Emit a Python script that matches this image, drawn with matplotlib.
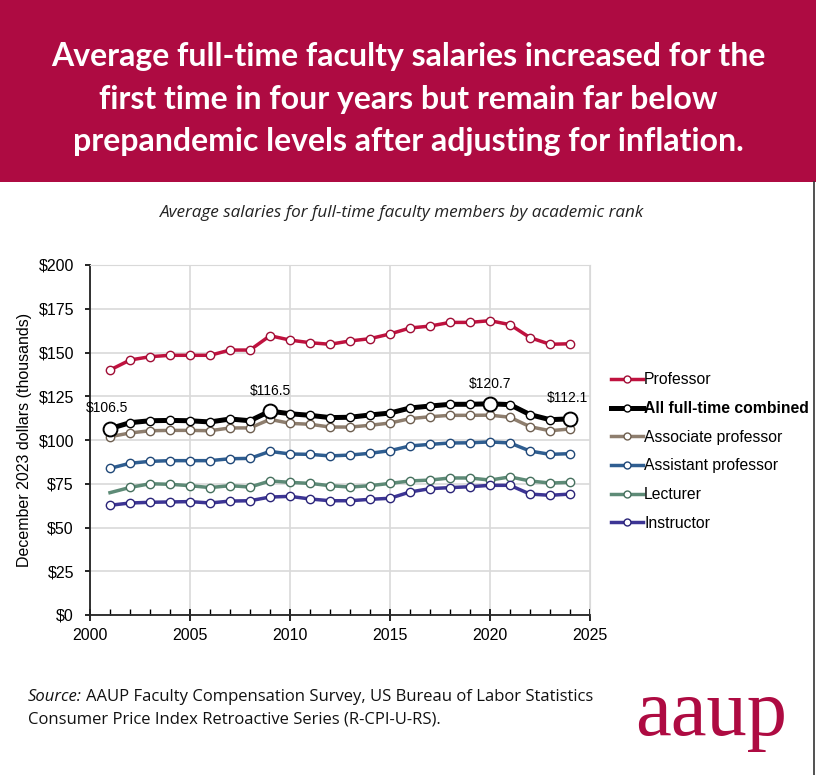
import matplotlib
matplotlib.use('Agg')
import matplotlib.pyplot as plt
from matplotlib.ticker import MultipleLocator, FuncFormatter

# data (thousands of Dec 2023 dollars)
years = list(range(2001, 2025))
professor = [140.0, 145.7, 147.6, 148.4, 148.4, 148.4, 151.4, 151.4, 159.6, 157.1, 155.6, 154.7,
             156.6, 157.9, 160.6, 164.0, 165.1, 167.2, 167.2, 168.2, 165.9, 158.5, 154.7, 155.0]
combined = [106.5, 109.9, 111.0, 111.2, 111.0, 110.3, 112.0, 111.0, 116.5, 115.0, 114.1, 112.8,
            113.0, 114.3, 115.4, 118.3, 119.4, 120.4, 120.4, 120.7, 120.2, 114.5, 111.6, 112.1]
associate = [101.9, 104.0, 105.3, 105.5, 105.5, 105.3, 106.9, 106.9, 111.8, 109.5, 109.0, 107.4,
             107.4, 108.4, 109.7, 112.2, 113.3, 114.1, 114.1, 114.2, 113.0, 107.6, 105.3, 106.3]
assistant = [83.8, 86.7, 87.8, 88.2, 88.2, 88.2, 89.3, 89.5, 93.5, 92.0, 91.8, 90.9,
             91.4, 92.4, 93.9, 96.6, 97.5, 98.3, 98.4, 98.9, 98.3, 93.7, 91.8, 92.2]
lecturer = [69.9, 72.9, 75.0, 74.7, 73.9, 72.8, 73.9, 73.1, 76.6, 75.8, 75.2, 73.9,
            73.1, 73.9, 75.2, 76.6, 77.1, 78.3, 78.3, 77.1, 78.9, 76.6, 75.4, 75.8]
instructor = [62.7, 64.0, 64.4, 64.6, 64.8, 64.0, 65.1, 65.3, 67.4, 67.8, 66.3, 65.3,
              65.3, 66.1, 66.7, 70.3, 72.2, 72.8, 73.3, 74.1, 74.1, 69.1, 68.4, 69.1]

labels = ['Professor', 'All full-time combined', 'Associate professor',
          'Assistant professor', 'Lecturer', 'Instructor']
callout_years = [2001, 2009, 2020, 2024]

crimson = '#AE0B42'

fig = plt.figure(figsize=(8.16, 7.75), dpi=100)
fig.patch.set_facecolor('white')

# header band
fig.patches.append(plt.Rectangle((0, 1 - 182/775), 1, 182/775, transform=fig.transFigure,
                                 facecolor=crimson, edgecolor='none', zorder=0))
# thin dark edge on the right like the screenshot
fig.add_artist(plt.Line2D([813.5/816, 813.5/816], [0, 1 - 182/775], transform=fig.transFigure,
                          color='#333333', lw=1.2))
fig.text(0.5, 1 - 99/775,
         'Average full-time faculty salaries increased for the\n'
         'first time in four years but remain far below\n'
         'prepandemic levels after adjusting for inflation.',
         ha='center', va='center', color='white', fontsize=23, fontweight='bold',
         family='Lato', linespacing=1.58)

fig.text(402/816, 1 - 213/775, 'Average salaries for full-time faculty members by academic rank',
         ha='center', va='center', fontsize=12.3, style='italic', family='Open Sans', color='#222222')

ax = fig.add_axes([90/816, 1 - 615/775, 500/816, 350/775])

series = [professor, combined, associate, assistant, lecturer, instructor]
colors = ['#C0123F', '#000000', '#8E7E6E', '#2F5E91', '#5E8B77', '#3D3595']
edges = ['#A00D35', '#000000', '#6E5F50', '#204878', '#46705E', '#2A2478']

for vals, lab, c, ec in zip(series, labels, colors, edges):
    is_all = lab.startswith('All')
    mk_every = list(range(1, len(years))) if lab == 'Lecturer' else None
    ax.plot(years, vals, color=c, lw=3.6 if is_all else 2.5, marker='o', ms=6,
            mfc='white', mec=ec, mew=1.0, label=lab, markevery=mk_every,
            zorder=4 if is_all else 3)

# bigger markers and callouts on the combined line
for yr in callout_years:
    v = combined[years.index(yr)]
    ax.plot(yr, v, marker='o', ms=10, mfc='white', mec='black', mew=1.4, zorder=5)
offsets = {2001: (-2, 14.5), 2009: (0, 14.5), 2020: (0, 14.5), 2024: (-2, 15)}
for yr in callout_years:
    v = combined[years.index(yr)]
    ax.annotate('$%.1f' % v, (yr, v), xytext=offsets[yr], textcoords='offset points',
                ha='center', va='center', fontsize=10, family='Liberation Sans')

ax.set_xlim(2000, 2025)
ax.set_ylim(0, 200)
ax.xaxis.set_major_locator(MultipleLocator(5))
ax.xaxis.set_minor_locator(MultipleLocator(1))
ax.yaxis.set_major_locator(MultipleLocator(25))
ax.yaxis.set_major_formatter(FuncFormatter(lambda v, p: '$%d' % v))
ax.grid(True, which='major', color='#D9D9D9', lw=1.2)
ax.set_axisbelow(True)
for s in ['top', 'right']:
    ax.spines[s].set_color('#D9D9D9')
for s in ['left', 'bottom']:
    ax.spines[s].set_color('#222222')
    ax.spines[s].set_linewidth(1.3)
ax.tick_params(axis='x', which='major', direction='inout', length=9, width=1.2,
               labelsize=11.5, pad=5)
ax.tick_params(axis='x', which='minor', direction='in', length=4, width=1.0)
ax.tick_params(axis='y', direction='out', length=3.6, width=1.2, labelsize=11.5, pad=8)
for t in ax.get_xticklabels() + ax.get_yticklabels():
    t.set_family('Liberation Sans')
ax.set_ylabel('December 2023 dollars (thousands)', fontsize=11.5, family='Liberation Sans')
ax.yaxis.set_label_coords(-0.115, 0.5)

leg = ax.legend(loc='upper left', bbox_to_anchor=(1.03, 0.711), frameon=False,
                prop={'family': 'Liberation Sans', 'size': 11.3},
                handlelength=2.0, handletextpad=0.1, labelspacing=0.87, borderaxespad=0)
for line in leg.get_lines():
    line.set_markersize(5)
for t in leg.get_texts():
    if t.get_text().startswith('All'):
        t.set_fontweight('bold')

# footer
src = fig.text(28/816, 1 - 697/775, 'Source:', fontsize=12, style='italic', family='Open Sans',
               va='center', ha='left', color='#111111')
fig.canvas.draw()
x_after = fig.transFigure.inverted().transform((src.get_window_extent().x1 + 4, 0))[0]
fig.text(x_after, 1 - 697/775, 'AAUP Faculty Compensation Survey, US Bureau of Labor Statistics',
         fontsize=12, family='Open Sans', va='center', ha='left', color='#111111')
fig.text(28/816, 1 - 720/775, 'Consumer Price Index Retroactive Series (R-CPI-U-RS).',
         fontsize=12, family='Open Sans', va='center', ha='left', color='#111111')
fig.text(711/816, 1 - 735/775, 'aaup', fontsize=58, family='Liberation Serif', color=crimson,
         ha='center', va='baseline')

fig.savefig('out.png', dpi=100)
